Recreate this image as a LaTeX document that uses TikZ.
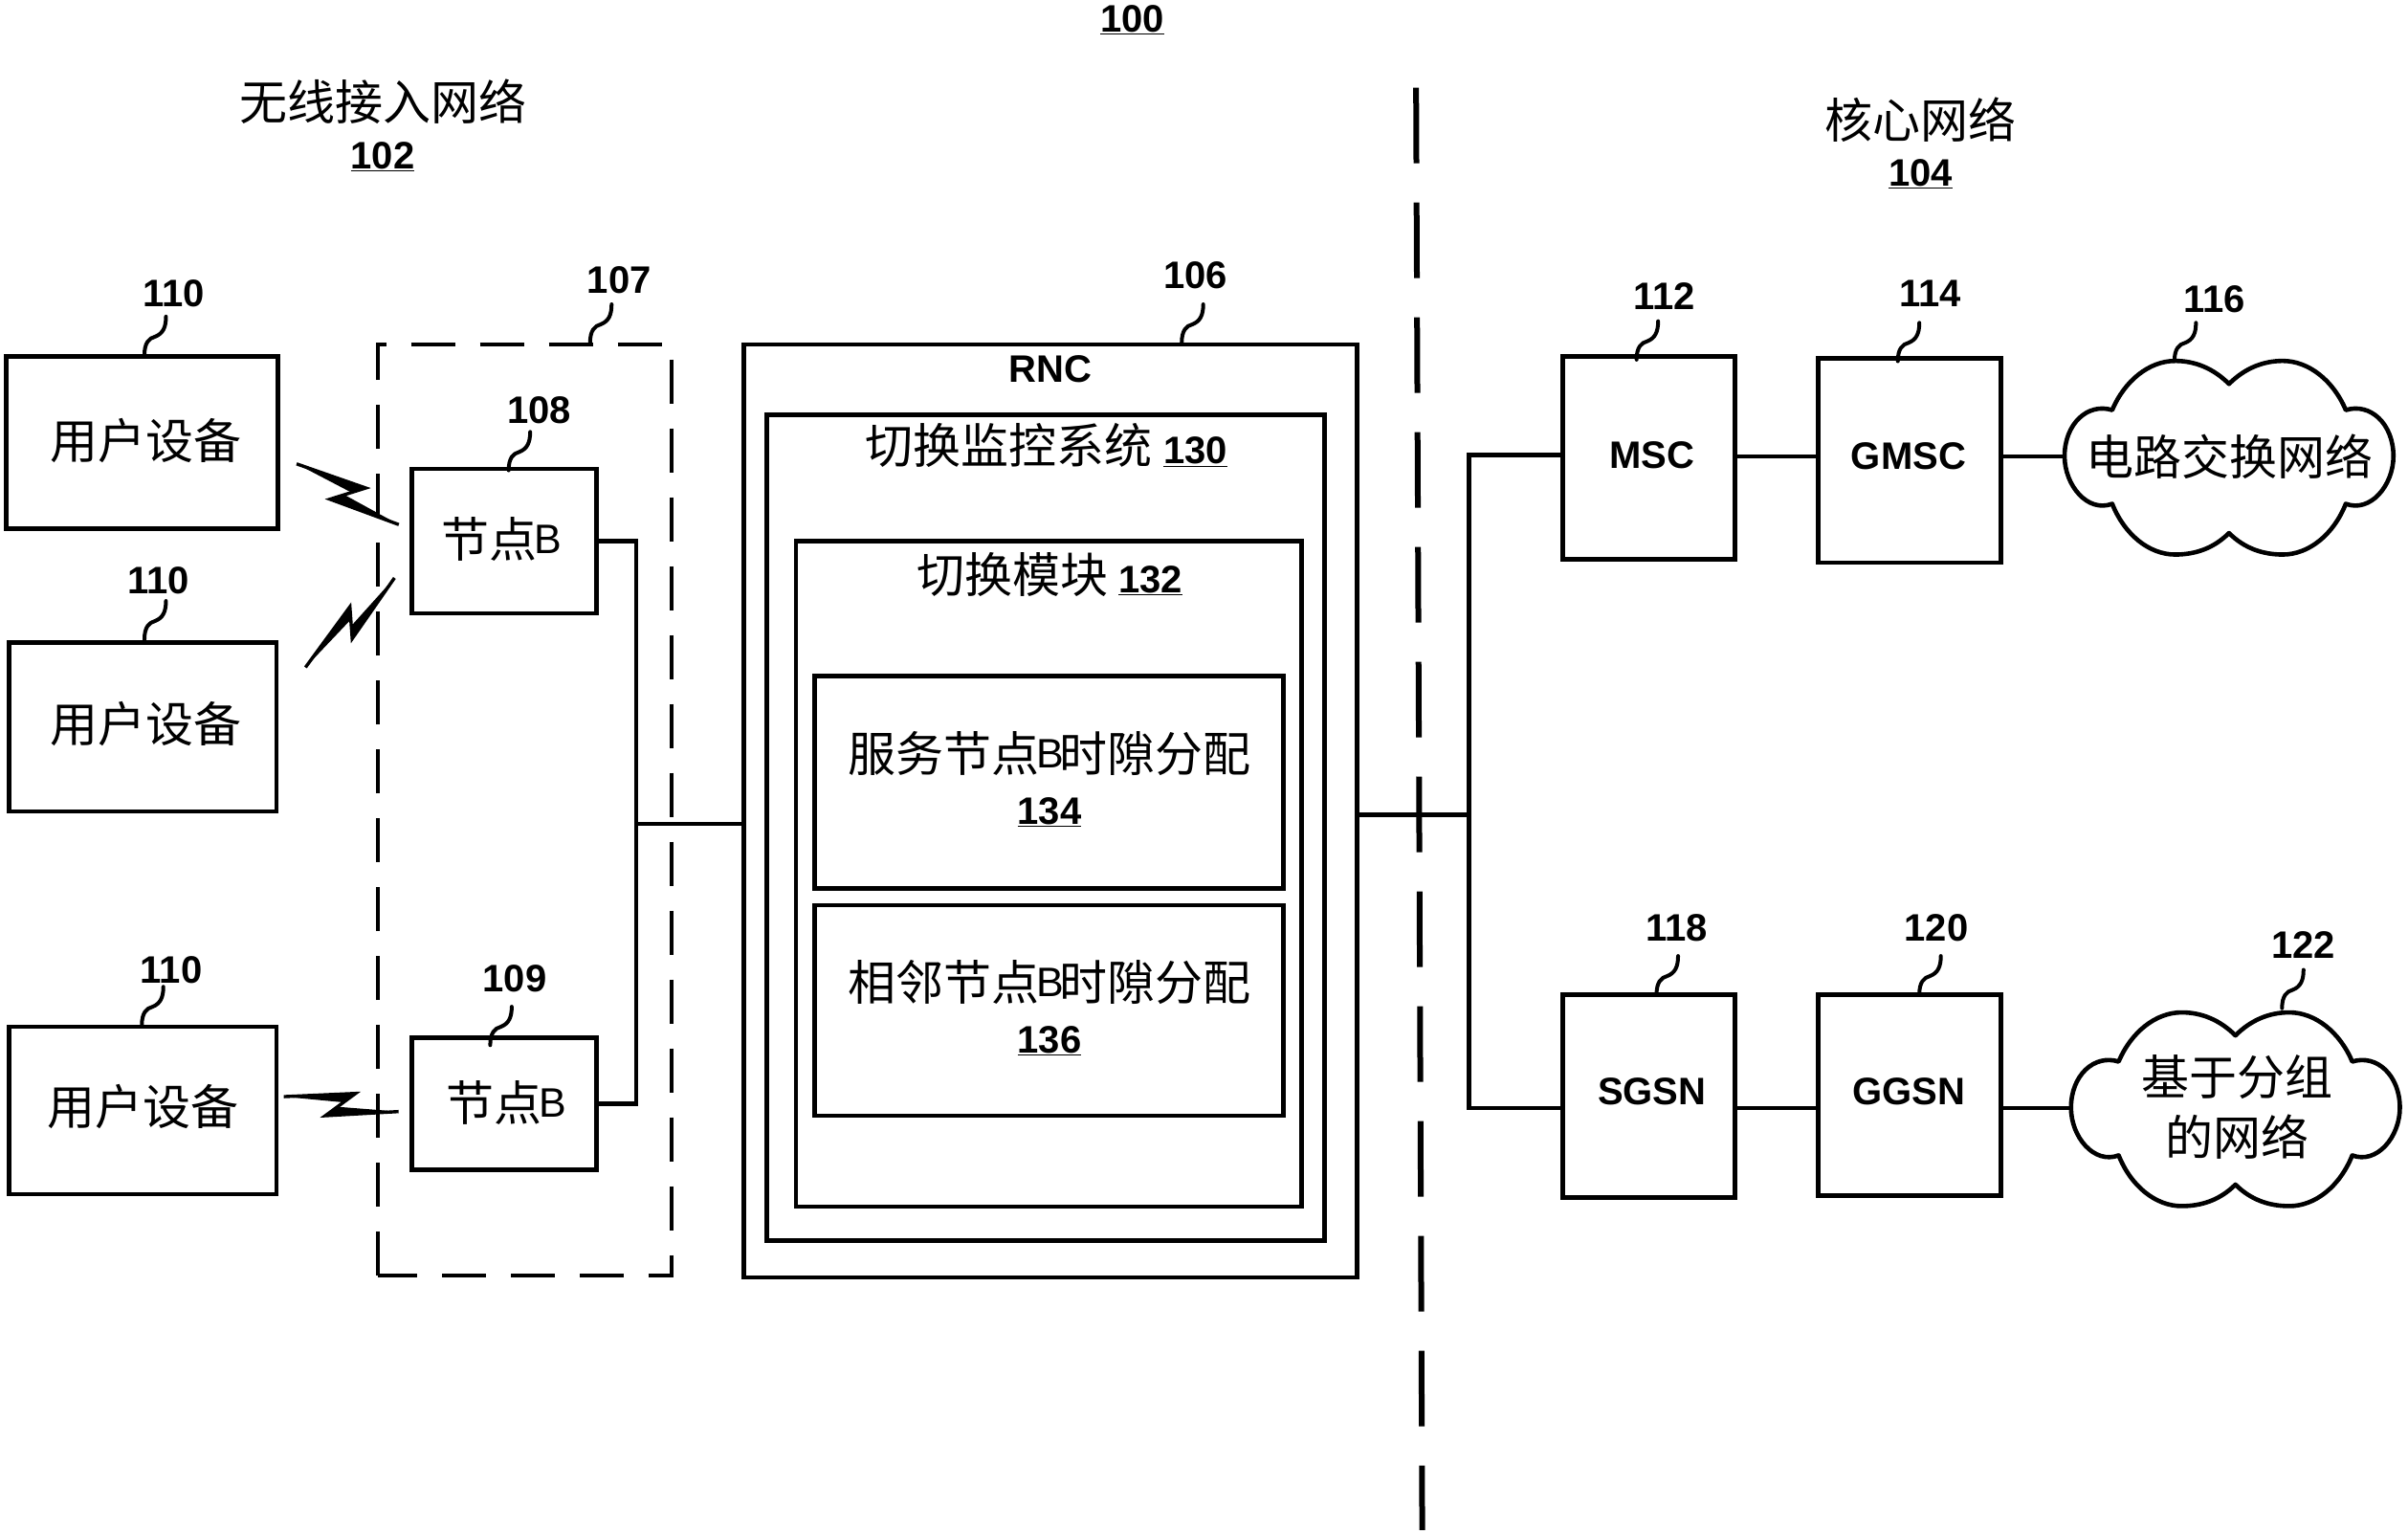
\documentclass[tikz,border=0pt]{standalone}
\usepackage{fontspec}
\setmainfont{Liberation Sans}
\newfontfamily\cjk{Noto Sans CJK SC}
\usetikzlibrary{calc}
\tikzset{
  box/.style={draw,line width=4.6pt,inner sep=0pt},
  wire/.style={line width=4.4pt},
  leadline/.style={line width=4pt,line cap=round},
  cn/.style={font=\fontsize{50}{60}\selectfont\cjk,inner sep=0pt,align=center},
  num/.style={font=\fontsize{40}{48}\selectfont\bfseries,inner sep=0pt},
  enlab/.style={font=\fontsize{40}{48}\selectfont\bfseries,inner sep=0pt},
  group/.style={draw,line width=3.6pt,dash pattern=on 46pt off 26pt},
  divider/.style={line width=6pt,dash pattern=on 79pt off 41pt},
  boltline/.style={line width=3.4pt,line join=miter},
  cloudline/.style={line width=4.6pt,line join=round},
}
\newcommand{\lbl}[1]{{\normalfont\fontsize{40}{48}\selectfont\bfseries\underline{#1}}}
\newcommand{\lat}[1]{\kern-3pt\raisebox{4pt}{\normalfont\fontsize{43}{50}\selectfont #1}\kern-4pt}
% \bx{name}{x1}{y1}{x2}{y2}
\newcommand{\bx}[5]{\node[box,minimum width={(#4-#2)*1.6063pt},minimum height={(#5-#3)*1.6063pt}] (#1) at ({(#2+#4)/2},{(#3+#5)/2}) {};}
% \ldr{name}{base x}{base y}{label x}{label y}{text}
\newcommand{\ldr}[6]{\node[num] (#1) at (#4,#5) {#6};
  \draw[leadline,shift={(#2,#3)}] (0,0) .. controls (0,-8) and (3,-11) .. (7,-12) .. controls (12,-14) and (14,-18) .. (14,-25);}
% \bolt{P0}{P1}{P2}{P3}
\newcommand{\bolt}[4]{\draw[boltline] (#1) -- (#2) -- (#3) -- (#4);
  \fill (#1) -- (#2) -- ($(#2)!0.4!(#3)$) -- cycle;
  \fill (#4) -- (#3) -- ($(#3)!0.4!(#2)$) -- cycle;}
% cloud outline around a centre
\newcommand{\cloudat}[2]{\begin{scope}[shift={(#1,#2)}]
  \draw[cloudline]
   (0,-48) .. controls (-10,-58) and (-22,-63) .. (-35,-63)
   .. controls (-52,-63) and (-68,-50) .. (-76,-31)
   .. controls (-92,-36) and (-107,-22) .. (-107,-1)
   .. controls (-107,18) and (-92,36) .. (-76,30)
   .. controls (-68,50) and (-52,63) .. (-35,63)
   .. controls (-22,63) and (-10,59) .. (0,49)
   .. controls (10,59) and (22,63) .. (35,63)
   .. controls (52,63) and (68,50) .. (76,30)
   .. controls (92,36) and (107,18) .. (107,-1)
   .. controls (107,-22) and (92,-36) .. (76,-31)
   .. controls (68,-50) and (52,-63) .. (35,-63)
   .. controls (22,-63) and (10,-58) .. (0,-48) -- cycle;
 \end{scope}}
\begin{document}
\begin{tikzpicture}[x=1.6063pt,y=-1.6063pt]
\useasboundingbox (0,0) rectangle (1567,995.5);
% titles
\node[num] (t100) at (737,13) {\underline{100}};
\node[cn] (t102a) at (249.5,66) {无线接入网络};
\node[num] (t102b) at (249,102) {\underline{102}};
\node[cn] (t104a) at (1250,78) {核心网络};
\node[num] (t104b) at (1250,113) {\underline{104}};
% divider
\coordinate (divtop) at (921.5,57);
\coordinate (divbot) at (925.5,995.5);
\draw[divider] (divtop) -- (divbot);
% user equipment
\bx{ue1}{4}{232}{181}{344}
\node[cn] (ue1t) at (95,287) {用户设备};
\bx{ue2}{6}{418}{180}{528}
\node[cn] (ue2t) at (95,471) {用户设备};
\bx{ue3}{6}{668}{180}{777}
\node[cn] (ue3t) at (93,720) {用户设备};
% node B group
\draw[group] (246,830) -- (246,224) -- (437,224) -- (437,830) -- cycle;
\bx{nb1}{268}{305}{388}{399}
\node[cn] (nb1t) at (325,351) {节点\lat{B}};
\bx{nb2}{268}{675}{388}{761}
\node[cn] (nb2t) at (328,717.5) {节点\lat{B}};
% radio links
\coordinate (a0) at (193,301.8); \coordinate (a1) at (238,317.5);
\coordinate (a2) at (214.7,324.8); \coordinate (a3) at (259.5,341.3);
\bolt{a0}{a1}{a2}{a3}
\coordinate (b0) at (256.7,376); \coordinate (b1) at (229.2,415.5);
\coordinate (b2) at (227.7,394.8); \coordinate (b3) at (198.8,434.2);
\bolt{b0}{b1}{b2}{b3}
\coordinate (c0) at (184.7,713.5); \coordinate (c1) at (231.4,711.4);
\coordinate (c2) at (211.7,725.9); \coordinate (c3) at (259.4,723.2);
\bolt{c0}{c1}{c2}{c3}
% RNC
\bx{rnc}{484}{224}{883}{831}
\node[enlab] (rnclab) at (683.5,240) {RNC};
\bx{hom}{499}{270}{862}{807}
\node[cn] (homlab) at (681,290) {切换监控系统 \lbl{130}};
\bx{hm}{518}{352}{847}{785}
\node[cn] (hmlab) at (683,374) {切换模块 \lbl{132}};
\bx{sts}{530}{440}{835}{578}
\node[cn] (stst) at (683,507) {服务节点\lat{B}时隙分配\\[-5pt]\lbl{134}};
\bx{nts}{530}{589}{835}{726}
\node[cn] (ntst) at (683,655.5) {相邻节点\lat{B}时隙分配\\[-5pt]\lbl{136}};
% core boxes
\bx{msc}{1017}{232}{1129}{364}
\node[enlab] (msct) at (1075,296) {MSC};
\bx{gmsc}{1183}{233}{1302}{366}
\node[enlab] (gmsct) at (1242,297) {GMSC};
\bx{sgsn}{1017}{647}{1129}{779}
\node[enlab] (sgsnt) at (1075,710) {SGSN};
\bx{ggsn}{1183}{647}{1302}{778}
\node[enlab] (ggsnt) at (1242,710) {GGSN};
% clouds
\cloudat{1450.5}{297.8}
\node[cn] (cs) at (1451,297) {电路交换网络};
\cloudat{1454.7}{721.7}
\node[cn] (ps) at (1455.7,720) {基于分组\\[3pt]的网络};
\coordinate (csw) at (1343.5,297);
\coordinate (psw) at (1347.5,721);
% wires left
\coordinate (busl) at (414,536);
\draw[wire] (nb1.east) -| (busl);
\draw[wire] (nb2.east) -| (busl);
\draw[wire] (busl) -- (busl -| rnc.west);
% wires right
\coordinate (busr) at (956,530);
\coordinate (bust) at (956,296);
\coordinate (busb) at (956,721);
\draw[wire] (bust -| msc.west) -- (bust) -- (busb) -- (busb -| sgsn.west);
\draw[wire] (busr -| rnc.east) -- (busr);
\draw[wire] (csw -| msc.east) -- (csw -| gmsc.west);
\draw[wire] (csw -| gmsc.east) -- (csw);
\draw[wire] (busb -| sgsn.east) -- (busb -| ggsn.west);
\draw[wire] (psw -| ggsn.east) -- (psw);
% reference numerals and leaders
\ldr{n110a}{94}{231}{113}{191}{110}
\ldr{n110b}{94}{416}{103}{378}{110}
\ldr{n110c}{92.3}{667}{111.5}{631}{110}
\ldr{n107}{384}{223}{403}{182}{107}
\ldr{n108}{331}{306}{351}{267}{108}
\ldr{n109}{319}{680}{335}{637}{109}
\ldr{n106}{769}{223}{778}{179}{106}
\ldr{n112}{1065}{234}{1083}{193}{112}
\ldr{n114}{1235}{235}{1256}{191}{114}
\ldr{n116}{1415}{235}{1441}{195}{116}
\ldr{n118}{1078}{647}{1091}{604}{118}
\ldr{n120}{1249}{647}{1260}{604}{120}
\ldr{n122}{1485}{656}{1499}{615}{122}
\end{tikzpicture}
\end{document}
